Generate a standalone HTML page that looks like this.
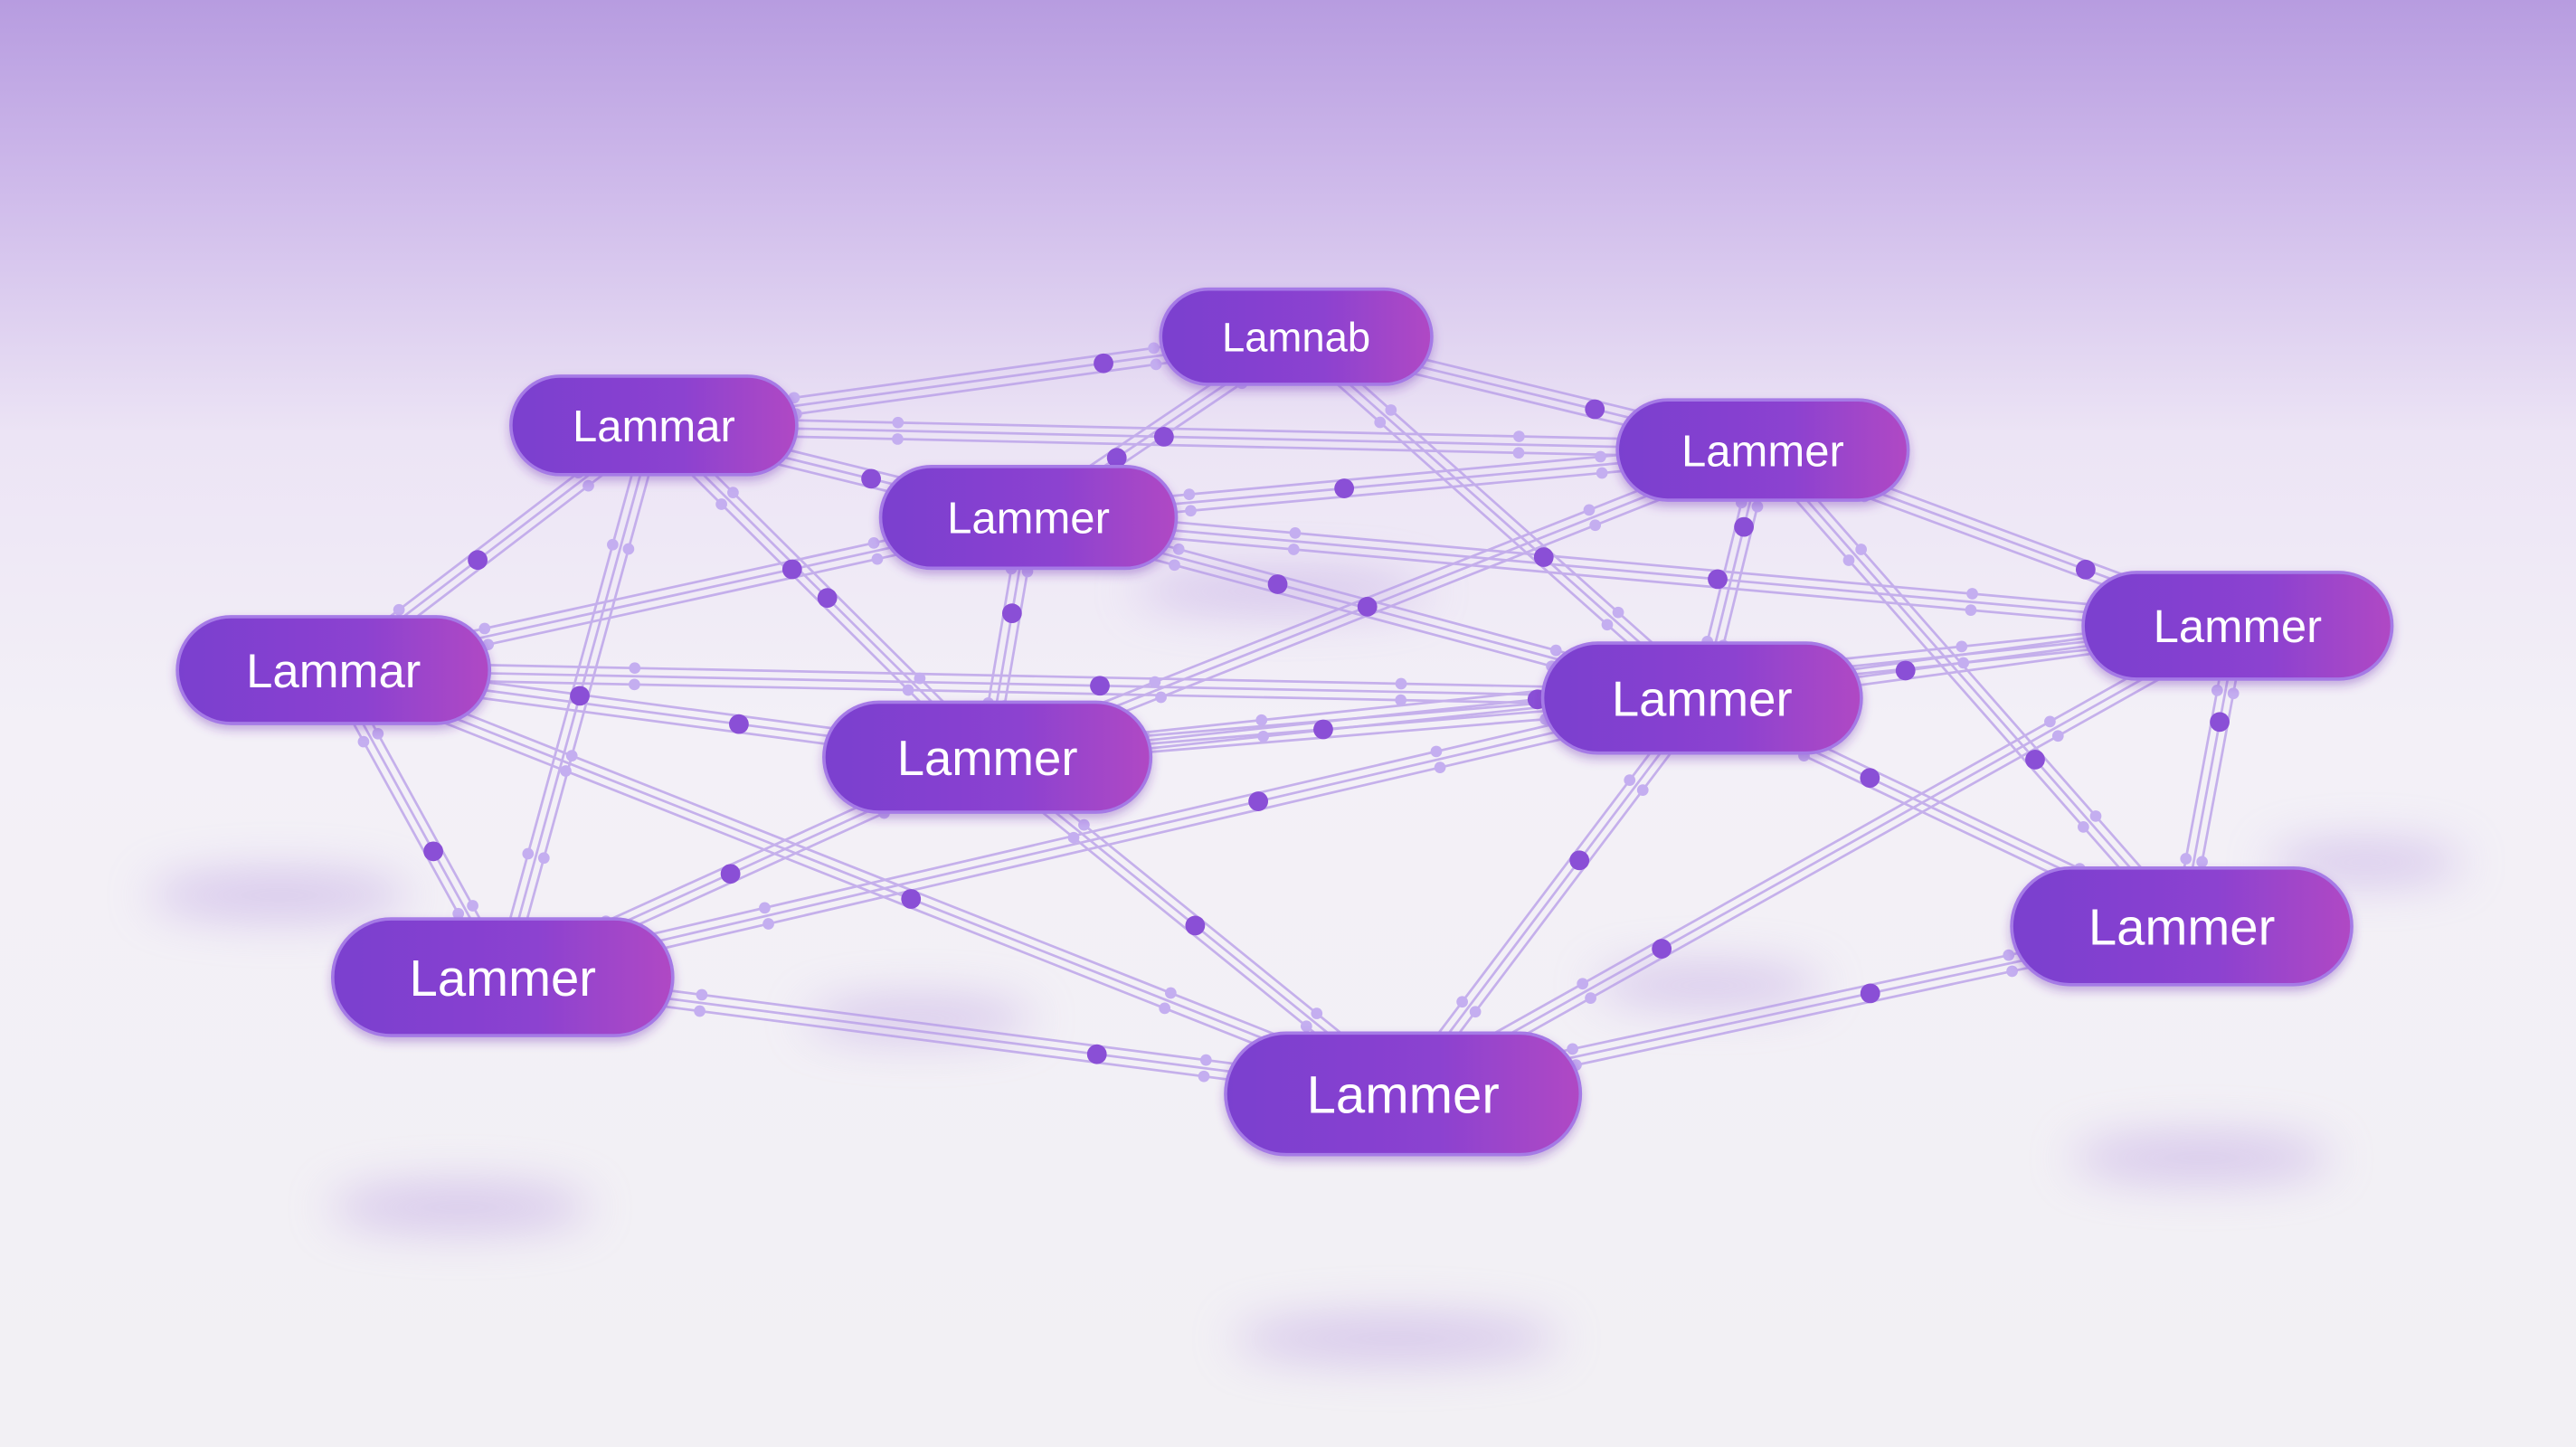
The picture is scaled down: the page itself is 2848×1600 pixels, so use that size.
<!DOCTYPE html>
<html><head><meta charset="utf-8"><style>
html,body{margin:0;padding:0;width:2848px;height:1600px;overflow:hidden;background:#f3f1f6}
svg{display:block}
</style></head><body>
<svg width="2848" height="1600" viewBox="0 0 1568 881" preserveAspectRatio="none" xmlns="http://www.w3.org/2000/svg">
<defs>
<linearGradient id="bg" x1="0" y1="0" x2="0" y2="1">
<stop offset="0" stop-color="#b79ce0"/>
<stop offset="0.12" stop-color="#cdb8ea"/>
<stop offset="0.3" stop-color="#ece4f5"/>
<stop offset="0.5" stop-color="#f3f0f7"/>
<stop offset="1" stop-color="#f2f0f4"/>
</linearGradient>
<linearGradient id="nd" x1="0" y1="0" x2="1" y2="0">
<stop offset="0" stop-color="#7a3fcf"/>
<stop offset="0.6" stop-color="#8c42d0"/>
<stop offset="1" stop-color="#b048c4"/>
</linearGradient>
<filter id="bl" x="-50%" y="-50%" width="200%" height="200%"><feGaussianBlur stdDeviation="14"/></filter>
<filter id="sh" x="-20%" y="-30%" width="140%" height="180%"><feDropShadow dx="0" dy="3" stdDeviation="3" flood-color="#6a2fb0" flood-opacity="0.35"/></filter>
</defs>
<rect width="1568" height="881" fill="url(#bg)"/>
<g fill="#b89ae0" opacity="0.5" filter="url(#bl)">
<ellipse cx="170" cy="545" rx="80" ry="14"/>
<ellipse cx="280" cy="735" rx="80" ry="14"/>
<ellipse cx="850" cy="815" rx="100" ry="14"/>
<ellipse cx="1340" cy="705" rx="80" ry="14"/>
<ellipse cx="1440" cy="525" rx="60" ry="12"/>
<ellipse cx="560" cy="620" rx="70" ry="12"/>
<ellipse cx="1040" cy="600" rx="70" ry="12"/>
<ellipse cx="780" cy="360" rx="90" ry="12"/>
</g>
<g id="edges" stroke="#b69be8" stroke-width="1.5" fill="none" opacity="0.75"></g>
<g id="dots" fill="#8a4fd6"></g>
<g id="nodes" font-family="Liberation Sans, sans-serif" fill="#fff" text-anchor="middle"></g>
</svg>
<script>
var N=[[789,205,165,58,"Lamnab",25],[398,259,174,60,"Lammar",27],[626,315,180,62,"Lammer",27],[1073,274,177,61,"Lammer",27],[203,408,190,65,"Lammar",29],[601,461,199,67,"Lammer",30],[1036,425,194,67,"Lammer",30],[1362,381,188,65,"Lammer",28],[306,595,207,71,"Lammer",31],[854,666,216,74,"Lammer",32],[1328,564,207,71,"Lammer",31]];
var E=[[0,1],[0,2],[0,3],[0,6],[1,2],[1,4],[1,5],[1,8],[1,3],[2,3],[2,5],[2,6],[2,4],[3,6],[3,7],[3,10],[4,5],[4,8],[4,6],[5,8],[5,9],[5,6],[5,7],[6,9],[6,7],[6,10],[7,10],[7,9],[8,9],[8,6],[9,10],[2,7],[4,9],[3,5]];
var ns="http://www.w3.org/2000/svg",eg=document.getElementById("edges"),dg=document.getElementById("dots"),ng=document.getElementById("nodes");
function el(t,a,p){var e=document.createElementNS(ns,t);for(var k in a)e.setAttribute(k,a[k]);p.appendChild(e);return e}
E.forEach(function(e,i){var a=N[e[0]],b=N[e[1]],dx=b[0]-a[0],dy=b[1]-a[1],L=Math.hypot(dx,dy),nx=-dy/L,ny=dx/L;
[-5,0,5].forEach(function(o){el("line",{x1:a[0]+nx*o,y1:a[1]+ny*o,x2:b[0]+nx*o,y2:b[1]+ny*o},eg)});
var t=0.3+((i*37)%40)/100;el("circle",{cx:a[0]+dx*t,cy:a[1]+dy*t,r:6},dg);
[0.22,0.78].forEach(function(s){[-5,5].forEach(function(o){el("circle",{cx:a[0]+dx*s+nx*o,cy:a[1]+dy*s+ny*o,r:3.5,fill:"#c4aef0"},dg)})});});
N.forEach(function(n){var g=el("g",{filter:"url(#sh)"},ng);
el("rect",{x:n[0]-n[2]/2,y:n[1]-n[3]/2,width:n[2],height:n[3],rx:n[3]/2,fill:"url(#nd)",stroke:"#a57ae6","stroke-width":2},g);
var t=el("text",{x:n[0],y:n[1]+n[5]*0.36,"font-size":n[5]},ng);t.textContent=n[4];});
</script>
</body></html>
